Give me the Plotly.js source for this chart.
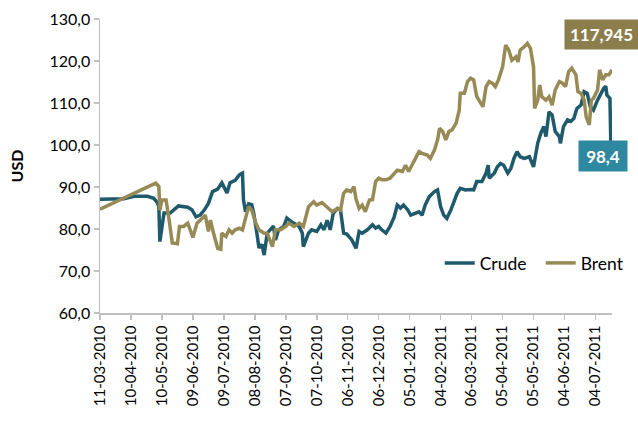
<!DOCTYPE html>
<html>
<head>
<meta charset="utf-8">
<script src="https://cdn.plot.ly/plotly-3.0.1.min.js"></script>
<style>html,body{margin:0;padding:0;background:#fff;}#chart{width:638px;height:422px;}</style>
</head>
<body>
<div id="chart"></div>
<script>
// Day offsets from 11-03-2010 and prices (USD)
const crudeDays = [0,23,33,46,52,55,57,58,62,68,76,85,89,93,97,101,105,109,114,118,123,126,131,135,138,139,141,144,147,149,152,154,157,159,162,165,168,170,173,178,181,185,189,193,196,197,202,205,210,214,217,220,223,226,230,233,
  236,239,244,248,251,254,259,264,267,270,273,277,281,285,288,291,294,298,301,306,309,312,315,319,324,327,330,333,336,340,343,346,349,354,359,362,365,370,374,376,377,382,385,388,391,395,398,401,404,407,411,416,420,424,427,430,432,435,438,441,445,446,449,453,456,459,462,466,469,472,475,478,482,485,488,490,491,494,495];
const crudeVals = [87.1,87.2,87.8,87.8,87.3,86.5,85.5,77.0,83.8,83.8,85.5,85.2,84.6,82.9,83.3,84.5,86.1,88.9,89.5,91.0,88.6,91.0,91.6,92.9,93.3,86.9,84.1,86.0,85.8,83.6,79.0,75.5,76.3,73.8,79.0,79.8,80.7,77.4,79.8,80.6,82.6,81.8,81.2,80.6,79.0,75.8,79.0,79.8,79.4,81.0,79.8,82.1,79.8,83.8,84.9,84.5,
  79.0,78.8,77.4,75.4,79.4,79.0,79.8,81.0,80.2,80.6,79.8,79.0,80.6,82.9,85.7,85.0,85.7,84.6,83.3,83.7,84.1,83.3,85.7,87.7,88.9,89.3,85.3,83.3,82.5,84.6,86.5,88.5,89.7,89.3,89.4,89.3,91.3,91.3,93.3,95.2,92.1,93.3,94.8,95.6,95.2,93.3,94.4,96.8,98.4,97.2,96.8,97.2,94.8,100.4,102.8,104.4,102.0,107.9,107.1,103.2,102.0,100.4,104.4,106.0,105.6,106.3,108.7,109.5,112.7,112.3,109.1,108.3,110.7,112.3,113.5,114.0,111.9,111.1,98.4];

const brentDays = [0,54,57,58,60,64,67,70,75,77,81,85,88,90,94,99,102,105,107,110,114,117,118,122,125,128,131,135,138,141,144,147,151,154,159,162,167,170,175,180,183,188,193,197,202,207,210,215,220,225,230,233,
  236,239,243,246,248,251,254,257,261,264,267,270,273,277,281,285,288,293,296,299,303,306,309,312,317,320,324,327,329,332,335,338,341,345,348,349,353,356,359,362,365,369,371,374,377,380,383,386,390,393,396,399,403,405,407,411,414,417,420,421,424,426,428,432,435,438,441,445,448,451,454,457,461,463,466,469,471,474,476,478,482,484,487,490,493,496];
const brentVals = [84.7,90.9,90.1,84.5,86.9,86.9,82.1,76.7,76.5,80.6,80.6,81.4,79.4,78.0,81.4,82.6,83.3,79.4,82.1,79.0,75.4,75.2,79.0,78.2,79.8,79.0,79.8,80.2,79.8,82.6,85.3,84.5,81.4,79.8,79.0,79.0,75.8,79.8,79.8,80.6,81.4,80.6,81.4,80.6,85.3,86.5,85.7,86.3,85.3,84.1,84.9,84.5,
  88.5,89.3,88.9,90.1,87.2,84.9,85.7,84.1,86.9,87.0,91.3,92.1,91.7,91.7,92.1,93.3,94.0,93.7,95.2,93.7,95.6,97.2,98.4,98.0,97.6,96.8,98.8,101.2,104.0,103.2,101.2,103.2,103.6,105.2,108.3,112.3,112.3,115.1,115.9,115.5,111.5,109.9,109.1,113.9,115.1,114.7,113.9,115.5,118.6,123.8,122.6,120.2,121.0,119.8,122.6,123.4,124.2,123.0,118.6,108.7,110.7,114.3,111.5,110.7,111.5,109.5,113.1,115.1,114.7,113.9,117.5,118.3,116.7,112.7,112.3,110.7,106.7,104.8,110.7,111.1,113.1,117.9,115.5,116.7,116.7,117.9];

const seriesNames = ['Crude','Brent'];
const lastLabels = ['98,4','117,945'];
const startDate = '2010-03-11';
const endDate = '2011-07-20';

const base = Date.UTC(2010, 2, 11);
const toDate = d => new Date(base + d * 86400000).toISOString().slice(0, 10);

const crudeColor = '#1e5a6b';
const brentColor = '#978a55';

const traces = [
  {x: crudeDays.map(toDate), y: crudeVals, name: seriesNames[0], type: 'scatter', mode: 'lines',
   line: {color: crudeColor, width: 3.5}},
  {x: brentDays.map(toDate), y: brentVals, name: seriesNames[1], type: 'scatter', mode: 'lines',
   line: {color: brentColor, width: 3.5}}
];

const layout = {
  width: 638, height: 422,
  margin: {l: 100, r: 26, t: 19, b: 109, autoexpand: false},
  paper_bgcolor: '#fff', plot_bgcolor: '#fff',
  font: {family: 'Lato, "Open Sans", sans-serif', size: 15, color: '#000'},
  separators: ',.',
  showlegend: true,
  legend: {orientation: 'h', x: 0.6635, y: 0.17, xanchor: 'left', yanchor: 'middle',
           entrywidth: 56, entrywidthmode: 'pixels',
           font: {size: 17.5, color: '#000'}, bgcolor: 'rgba(0,0,0,0)'},
  xaxis: {
    type: 'date', range: [startDate, endDate],
    tick0: startDate, dtick: 30 * 86400000, tickformat: '%d-%m-%Y',
    tickangle: -90, ticks: 'outside', ticklen: 5, tickcolor: '#bfbfbf', tickwidth: 1.5,
    showline: true, linecolor: '#bfbfbf', linewidth: 1.5, showgrid: false, zeroline: false,
    tickfont: {size: 15, color: '#000'}
  },
  yaxis: {
    range: [60, 130], dtick: 10, tick0: 60, tickformat: '.1f',
    ticks: 'outside', ticklen: 5, tickcolor: '#bfbfbf', tickwidth: 1.5,
    showline: true, linecolor: '#bfbfbf', linewidth: 1.5, showgrid: false, zeroline: false,
    tickfont: {size: 16, color: '#000'},
    title: {text: 'USD', font: {size: 16, weight: 'bold', color: '#000'}, standoff: 22}
  },
  annotations: [
    {xref: 'paper', yref: 'paper', x: 0.9795, y: 0.947, xanchor: 'center', yanchor: 'middle',
     text: '<b>' + lastLabels[1] + '</b>', showarrow: false, bgcolor: '#8c7e4c',
     width: 73, height: 29, borderpad: 0, font: {size: 17, color: '#fff'}},
    {xref: 'paper', yref: 'paper', x: 0.982, y: 0.534, xanchor: 'center', yanchor: 'middle',
     text: '<b>' + lastLabels[0] + '</b>', showarrow: false, bgcolor: '#2e88a0',
     width: 48, height: 30, borderpad: 0, font: {size: 17, color: '#fff'}}
  ]
};

Plotly.newPlot('chart', traces, layout, {staticPlot: true, displayModeBar: false});
</script>
</body>
</html>
